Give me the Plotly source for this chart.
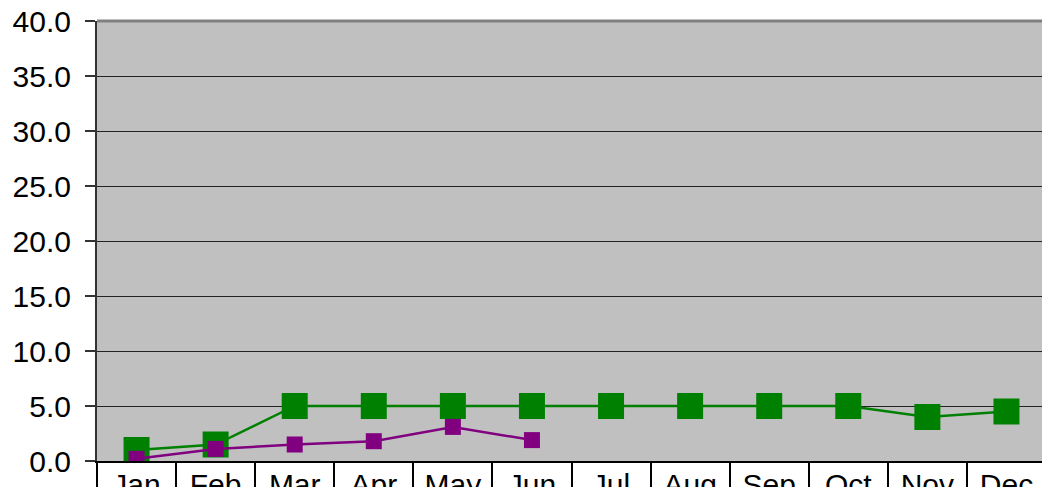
import plotly.graph_objects as go

months = ["Jan", "Feb", "Mar", "Apr", "May", "Jun", "Jul", "Aug", "Sep", "Oct", "Nov", "Dec"]
green_vals = [1.0, 1.5, 5.0, 5.0, 5.0, 5.0, 5.0, 5.0, 5.0, 5.0, 4.0, 4.5]
purple_months = ["Jan", "Feb", "Mar", "Apr", "May", "Jun"]
purple_vals = [0.2, 1.1, 1.5, 1.8, 3.1, 1.9]
y_ticks = [0, 5, 10, 15, 20, 25, 30, 35, 40]

FONT = "Liberation Sans, Arial, sans-serif"

fig = go.Figure()
# invisible trace to carry the boundary-tick axis
fig.add_trace(go.Scatter(x=months, y=[None] * len(months), xaxis="x2", yaxis="y",
                         mode="lines", showlegend=False, hoverinfo="skip"))
fig.add_trace(go.Scatter(x=months, y=green_vals, mode="lines+markers",
                         line=dict(color="#008000", width=2.5),
                         marker=dict(symbol="square", size=26, color="#008000"),
                         showlegend=False))
fig.add_trace(go.Scatter(x=purple_months, y=purple_vals, mode="lines+markers",
                         line=dict(color="#800080", width=2.5),
                         marker=dict(symbol="square", size=16, color="#800080"),
                         showlegend=False))

fig.update_layout(
    width=1042, height=479,
    margin=dict(l=89, r=4, t=13, b=26, autoexpand=False),
    paper_bgcolor="white",
    plot_bgcolor="#C0C0C0",
    font=dict(family=FONT, size=30, color="black"),
    xaxis=dict(type="category", categoryorder="array", categoryarray=months,
               range=[-0.5, 11.5], showgrid=False, zeroline=False,
               showline=True, linecolor="black", linewidth=2,
               ticks="", ticklabelstandoff=-4, ticklabeloverflow="allow",
               tickfont=dict(size=30, family=FONT), automargin=False),
    xaxis2=dict(type="category", categoryorder="array", categoryarray=months,
                range=[-0.5, 11.5], overlaying="x", side="bottom", anchor="y",
                showgrid=False, zeroline=False, showline=False,
                ticks="outside", tickson="boundaries", ticklen=40, tickwidth=1.5,
                tickcolor="black", showticklabels=False, automargin=False),
    yaxis=dict(range=[0, 40], tickvals=y_ticks, tickformat=".1f",
               showgrid=True, gridcolor="#222222", gridwidth=1,
               zeroline=False, showline=True, linecolor="#333333", linewidth=2,
               ticks="outside", ticklen=10, tickwidth=1.5, tickcolor="#333333",
               ticklabelstandoff=8, ticklabeloverflow="allow",
               tickfont=dict(size=30, family=FONT), automargin=False),
    shapes=[
        dict(type="line", xref="paper", yref="paper", x0=0, x1=1, y0=1, y1=1,
             line=dict(color="#808080", width=3)),
        dict(type="line", xref="paper", yref="paper", x0=1, x1=1, y0=0, y1=1,
             line=dict(color="#808080", width=3)),
    ],
)

fig.write_html("out.html")
